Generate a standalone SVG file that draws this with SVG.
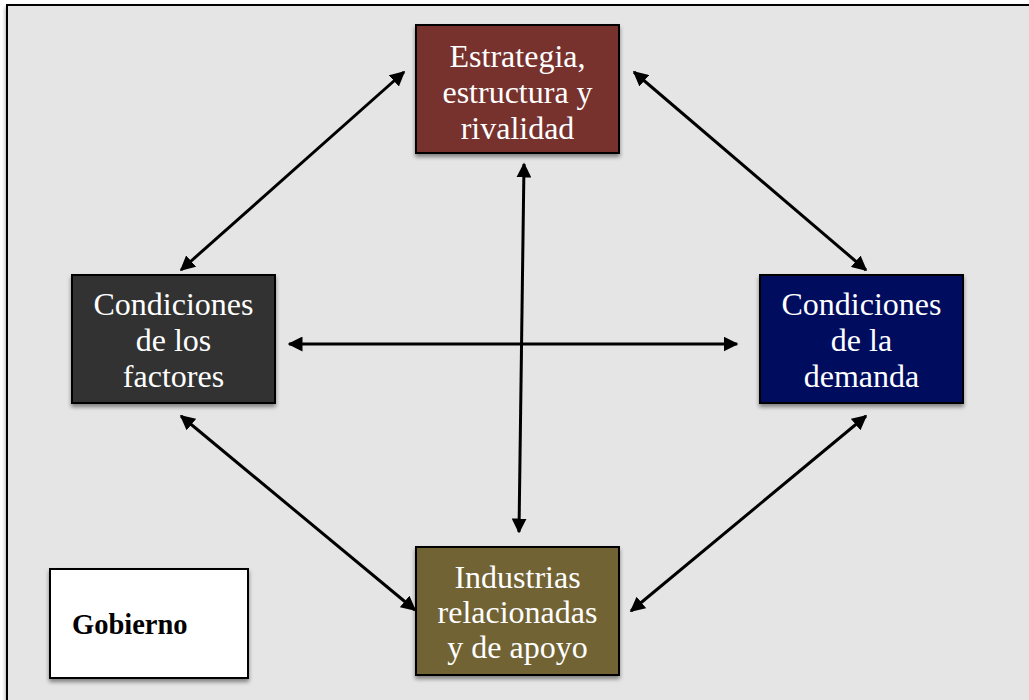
<svg xmlns="http://www.w3.org/2000/svg" width="1029" height="700" viewBox="0 0 1029 700">
<defs>
<filter id="sh" x="-10%" y="-10%" width="130%" height="130%">
<feGaussianBlur in="SourceAlpha" stdDeviation="2"/>
<feOffset dx="0" dy="3"/>
<feComponentTransfer><feFuncA type="linear" slope="0.45"/></feComponentTransfer>
<feMerge><feMergeNode/><feMergeNode in="SourceGraphic"/></feMerge>
</filter>
<marker id="ah" viewBox="0 0 10 10" refX="9" refY="5" markerWidth="5" markerHeight="5" orient="auto-start-reverse" markerUnits="strokeWidth">
<path d="M0,0 L10,5 L0,10 z" fill="#000"/>
</marker>
</defs>
<style>
.box{stroke:#000;stroke-width:2;filter:url(#sh)}
.t{font-family:"Liberation Serif","Times New Roman",serif;font-size:32px;fill:#fff;text-anchor:middle}
.c{stroke:#000;stroke-width:3;fill:none;marker-start:url(#ah);marker-end:url(#ah)}
</style>
<rect width="1029" height="700" fill="#fff"/>
<rect x="7" y="5" width="1030" height="710" fill="#e5e5e5" stroke="#000" stroke-width="2" filter="url(#sh)"/>
<g id="connectors">
<line class="c" x1="181" y1="270" x2="404" y2="72"/>
<line class="c" x1="634" y1="72" x2="866" y2="270"/>
<line class="c" x1="181" y1="416" x2="415" y2="610"/>
<line class="c" x1="631" y1="611" x2="866" y2="416"/>
<line class="c" x1="289" y1="344" x2="737" y2="344"/>
<line class="c" x1="524" y1="164" x2="519" y2="532"/>
</g>
<g id="estrategia">
<rect class="box" x="416" y="25" width="203" height="128" fill="#77302f"/>
<text class="t" x="517.5" y="67">Estrategia,</text>
<text class="t" x="517.5" y="103">estructura y</text>
<text class="t" x="517.5" y="139">rivalidad</text>
</g>
<g id="factores">
<rect class="box" x="72" y="275" width="203" height="128" fill="#333333"/>
<text class="t" x="173.5" y="315">Condiciones</text>
<text class="t" x="173.5" y="351">de los</text>
<text class="t" x="173.5" y="387">factores</text>
</g>
<g id="demanda">
<rect class="box" x="760" y="275" width="203" height="128" fill="#020d5f"/>
<text class="t" x="861.5" y="315">Condiciones</text>
<text class="t" x="861.5" y="351">de la</text>
<text class="t" x="861.5" y="387">demanda</text>
</g>
<g id="industrias">
<rect class="box" x="416" y="547" width="203" height="128" fill="#726336"/>
<text class="t" x="517.5" y="588">Industrias</text>
<text class="t" x="517.5" y="623">relacionadas</text>
<text class="t" x="517.5" y="658">y de apoyo</text>
</g>
<g id="gobierno">
<rect class="box" x="50" y="569" width="198" height="109" fill="#fff"/>
<text x="72" y="634" font-family="Liberation Serif, Times New Roman, serif" font-size="28.5" font-weight="bold" fill="#000">Gobierno</text>
</g>
</svg>
